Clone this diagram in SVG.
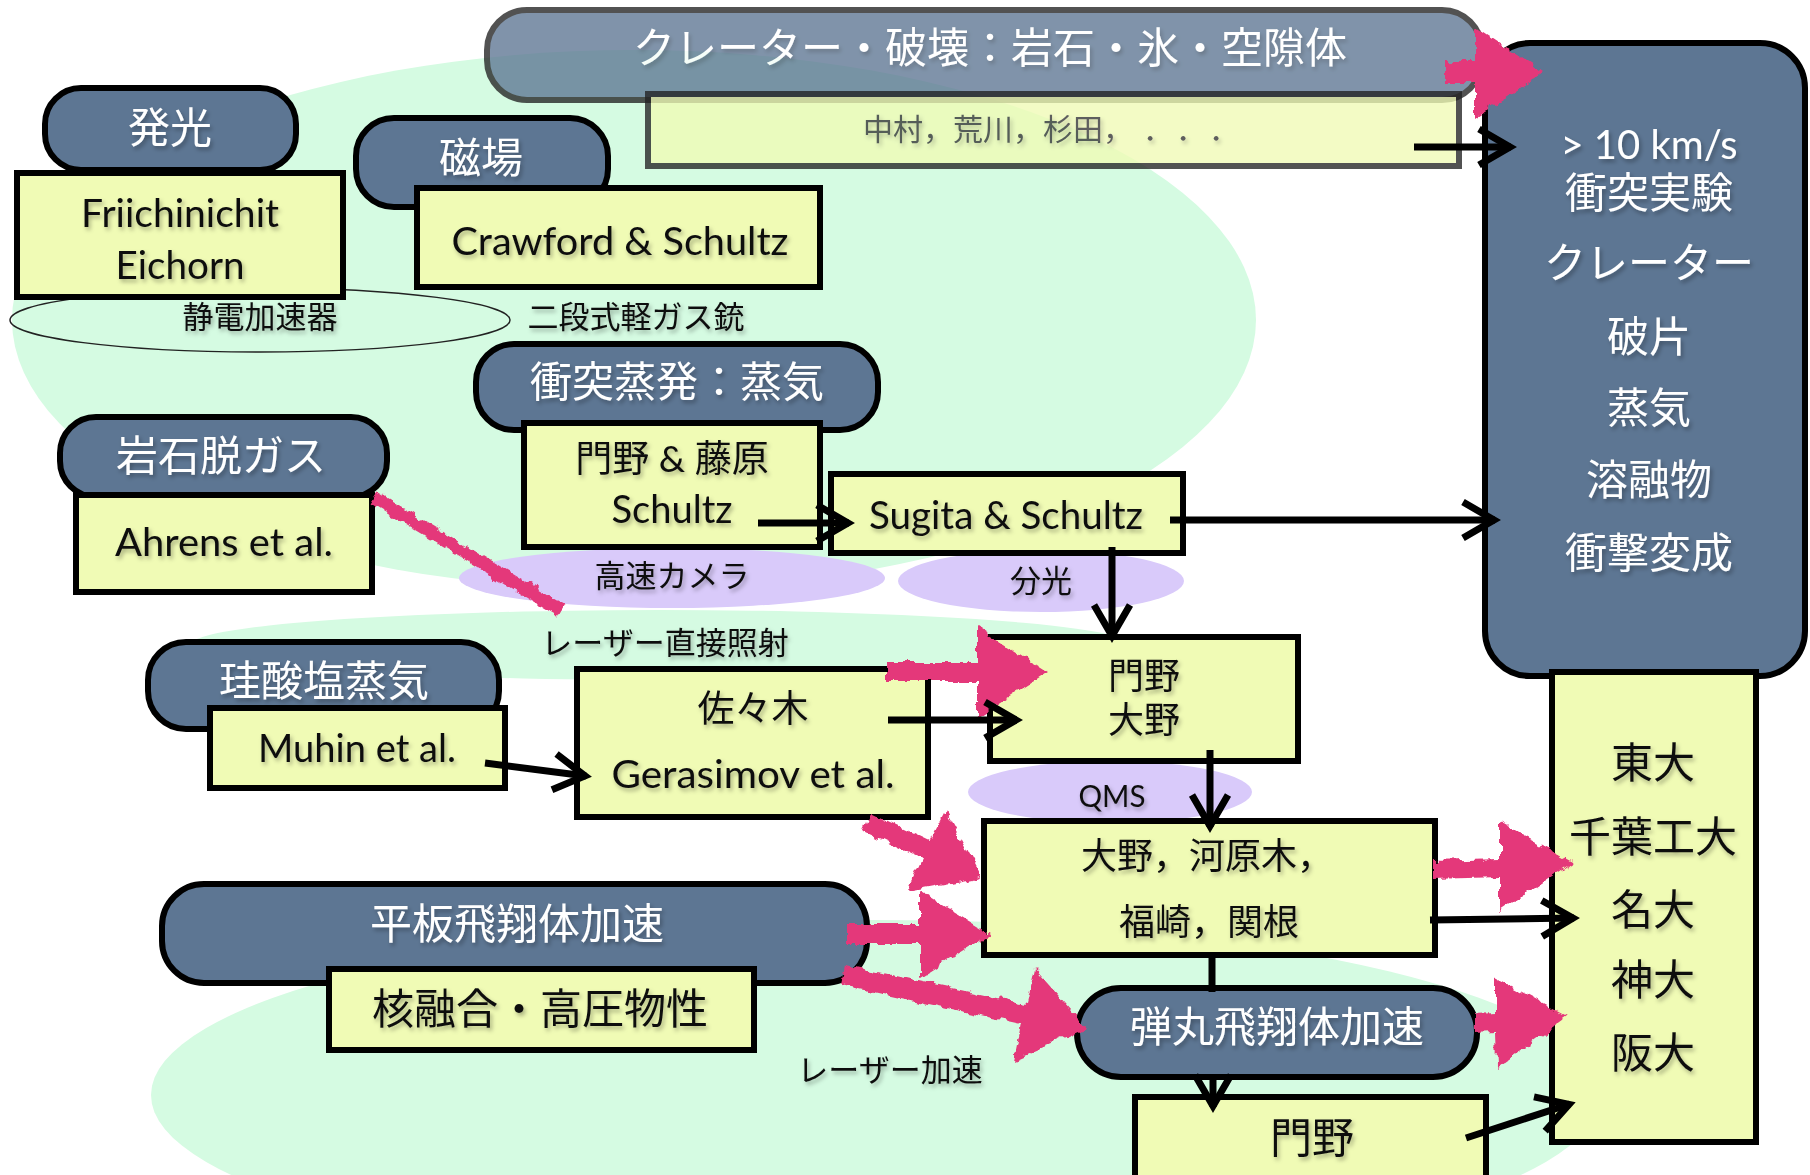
<svg xmlns="http://www.w3.org/2000/svg" width="1810" height="1175" viewBox="0 0 1810 1175">
<style>
.bg{fill:#d5fbe2}
.lav{fill:#d9cafa}
.pill{fill:#5d7693;stroke:#000;stroke-width:6}
.box{fill:#f0fbb5;stroke:#000;stroke-width:6}
.t{font-family:'Noto Sans CJK JP',sans-serif;text-anchor:middle;dominant-baseline:central;filter:url(#sh)}
.lat{font-family:Lato,'Noto Sans CJK JP',sans-serif}
.w{fill:#fff;font-size:42px}
.d{fill:#111;font-size:42px}
.s31{font-size:31px}
.s36{font-size:36px}
.s39{font-size:39px}
.con{fill:none;stroke:#000;stroke-width:7;marker-end:url(#chev)}
.pink{fill:#e4397a;filter:url(#rough)}
</style>
<defs>
<filter id="sh" x="-10%" y="-30%" width="120%" height="160%">
<feDropShadow dx="2" dy="3" stdDeviation="2" flood-color="#000" flood-opacity="0.3"/>
</filter>
<filter id="rough" x="-15%" y="-15%" width="130%" height="130%">
<feTurbulence type="fractalNoise" baseFrequency="0.09" numOctaves="3" seed="3" result="n"/>
<feDisplacementMap in="SourceGraphic" in2="n" scale="9" xChannelSelector="R" yChannelSelector="G"/>
</filter>
<marker id="chev" markerUnits="userSpaceOnUse" viewBox="-45 -28 60 56" markerWidth="60" markerHeight="56" refX="0" refY="0" orient="auto">
<path d="M -32 -18 L -1 0 L -32 18" fill="none" stroke="#000" stroke-width="7" stroke-linejoin="miter"/>
</marker>
</defs>

<g id="background">
<ellipse class="bg" cx="634" cy="320" rx="622" ry="270"/>
<ellipse class="bg" cx="660" cy="645" rx="470" ry="35"/>
<ellipse class="bg" cx="876" cy="1095" rx="725" ry="175"/>
<ellipse id="el-kosoku" class="lav" cx="672" cy="578" rx="213" ry="30"/>
<ellipse id="el-bunko" class="lav" cx="1041" cy="581" rx="143" ry="31"/>
<ellipse id="el-qms" class="lav" cx="1110" cy="792" rx="142" ry="31"/>
<ellipse id="el-seiden" cx="260" cy="320" rx="250" ry="32" fill="none" stroke="#222" stroke-width="1.5"/>
</g>

<g id="labels">
<text class="t d s31" x="260" y="314">静電加速器</text>
<text class="t d s31" x="636" y="314">二段式軽ガス銃</text>
<text class="t d s31" x="672" y="573">高速カメラ</text>
<text class="t d s31" x="1041" y="578">分光</text>
<text class="t d lat" x="1112" y="795" style="font-size:30px" textLength="67" lengthAdjust="spacingAndGlyphs">QMS</text>
<text class="t d s31" x="665" y="640">レーザー直接照射</text>
<text class="t d s31" x="890" y="1067">レーザー加速</text>
</g>

<g id="n-crater" opacity="0.78">
<rect x="487" y="10" width="995" height="90" rx="40" class="pill" style="stroke:#222"/>
<text class="t w" x="990" y="44">クレーター・破壊：岩石・氷・空隙体</text>
</g>
<g id="n-nakamura" opacity="0.78">
<rect x="648" y="94" width="811" height="72" class="box" style="stroke:#222"/>
<text class="t d" x="863" y="127" style="font-size:30px;fill:#333;text-anchor:start">中村，荒川，杉田，</text>
<text class="t d" x="1158" y="127" style="font-size:30px;fill:#333">．</text>
<text class="t d" x="1191" y="127" style="font-size:30px;fill:#333">．</text>
<text class="t d" x="1224" y="127" style="font-size:30px;fill:#333">．</text>
</g>

<g id="n-right">
<rect x="1485" y="43" width="320" height="633" rx="45" class="pill"/>
<text class="t w" x="1649" y="144"><tspan class="lat" x="1649" y="144" style="font-size:40px">&gt; 10 km/s</tspan><tspan x="1649" y="189">衝突実験</tspan></text>
<text class="t w" x="1649" y="259">クレーター</text>
<text class="t w" x="1649" y="333">破片</text>
<text class="t w" x="1649" y="404">蒸気</text>
<text class="t w" x="1649" y="476">溶融物</text>
<text class="t w" x="1649" y="549">衝撃変成</text>
</g>
<g id="n-univ">
<rect x="1552" y="672" width="204" height="470" class="box"/>
<text class="t d" x="1653" y="759">東大</text>
<text class="t d" x="1653" y="833">千葉工大</text>
<text class="t d" x="1653" y="906">名大</text>
<text class="t d" x="1653" y="976">神大</text>
<text class="t d" x="1653" y="1049">阪大</text>
</g>

<g id="n-hakko">
<rect x="45" y="88" width="251" height="82" rx="36" class="pill"/>
<text class="t w" x="170" y="124">発光</text>
</g>
<g id="n-friichinichit">
<rect x="17" y="173" width="326" height="124" class="box"/>
<text class="t d lat s39" x="180" y="212" textLength="198" lengthAdjust="spacingAndGlyphs">Friichinichit</text>
<text class="t d lat s39" x="180" y="264" textLength="129" lengthAdjust="spacingAndGlyphs">Eichorn</text>
</g>

<g id="n-jiba">
<rect x="356" y="118" width="252" height="89" rx="38" class="pill"/>
<text class="t w" x="481" y="154">磁場</text>
</g>
<g id="n-crawford">
<rect x="417" y="188" width="403" height="99" class="box"/>
<text class="t d lat s39" x="620" y="240" textLength="337" lengthAdjust="spacingAndGlyphs">Crawford &amp; Schultz</text>
</g>

<g id="n-shototsu">
<rect x="476" y="344" width="402" height="86" rx="38" class="pill"/>
<text class="t w" x="677" y="378">衝突蒸発：蒸気</text>
</g>
<g id="n-kadono-fujiwara">
<rect x="524" y="423" width="296" height="124" class="box"/>
<text class="t d lat" x="672" y="457" style="font-size:37px">門野 &amp; 藤原</text>
<text class="t d lat s39" x="672" y="508" textLength="121" lengthAdjust="spacingAndGlyphs">Schultz</text>
</g>

<g id="n-sugita">
<rect x="831" y="474" width="352" height="79" class="box"/>
<text class="t d lat s39" x="1006" y="514" textLength="274" lengthAdjust="spacingAndGlyphs">Sugita &amp; Schultz</text>
</g>

<g id="n-ganseki">
<rect x="60" y="417" width="327" height="80" rx="36" class="pill"/>
<text class="t w" x="221" y="452">岩石脱ガス</text>
</g>
<g id="n-ahrens">
<rect x="76" y="495" width="296" height="97" class="box"/>
<text class="t d lat s39" x="224" y="541" textLength="218" lengthAdjust="spacingAndGlyphs">Ahrens et al.</text>
</g>

<g id="n-keisan">
<rect x="148" y="642" width="351" height="87" rx="38" class="pill"/>
<text class="t w" x="324" y="677">珪酸塩蒸気</text>
</g>
<g id="n-muhin">
<rect x="210" y="708" width="295" height="80" class="box"/>
<text class="t d lat s39" x="357" y="747" textLength="198" lengthAdjust="spacingAndGlyphs">Muhin et al.</text>
</g>

<g id="n-sasaki">
<rect x="577" y="669" width="351" height="148" class="box"/>
<text class="t d" x="753" y="706" style="font-size:37px">佐々木</text>
<text class="t d lat s39" x="753" y="773" textLength="283" lengthAdjust="spacingAndGlyphs">Gerasimov et al.</text>
</g>

<g id="n-kadono-ohno">
<rect x="990" y="637" width="308" height="124" class="box"/>
<text class="t d s36" x="1144" y="673"><tspan x="1144" y="673">門野</tspan><tspan x="1144" y="717">大野</tspan></text>
</g>

<g id="n-ohno-kawara">
<rect x="984" y="821" width="451" height="134" class="box"/>
<text class="t d s36" x="1207" y="853">大野，河原木，</text>
<text class="t d s36" x="1209" y="919">福崎，関根</text>
</g>

<g id="n-heiban">
<rect x="162" y="884" width="705" height="99" rx="42" class="pill"/>
<text class="t w" x="517" y="920">平板飛翔体加速</text>
</g>
<g id="n-kakuyugo">
<rect x="329" y="969" width="425" height="81" class="box"/>
<text class="t d" x="540" y="1005">核融合・高圧物性</text>
</g>

<g id="n-dangan">
<rect x="1077" y="988" width="400" height="89" rx="44" class="pill"/>
<text class="t w" x="1277" y="1023">弾丸飛翔体加速</text>
</g>
<g id="n-kadono">
<rect x="1135" y="1097" width="351" height="95" class="box"/>
<text class="t d" x="1312" y="1134">門野</text>
</g>

<g id="connectors">
<polygon class="pink" points="1445,61 1475,61 1475,27 1543,72 1475,118 1475,82 1445,82"/>
<line x1="373" y1="497" x2="560" y2="610" stroke="#e4397a" stroke-width="13" filter="url(#rough)"/>
<polygon class="pink" points="887,662 977,662 977,627 1048,672 977,718 977,681 887,681"/>
<polygon class="pink" points="871,813 930,841 946,810 982,877 907,891 922,859 863,831"/>
<polygon class="pink" points="847,924 920,924 920,891 990,934 920,978 920,944 847,944"/>
<polygon class="pink" points="845,965 1026,1004 1034,968 1087,1028 1014,1060 1021,1024 841,985"/>
<polygon class="pink" points="1433,861 1500,859 1500,822 1573,862 1500,912 1500,877 1433,879"/>
<polygon class="pink" points="1474,1014 1495,1013 1495,978 1568,1017 1497,1068 1496,1031 1474,1032"/>

<path class="con" d="M1414,147 L1511,147"/>
<path class="con" d="M758,523 L849,523"/>
<path class="con" d="M1170,520 L1495,520"/>
<path class="con" d="M1112,547 L1112,637"/>
<path class="con" d="M485,763 L586,776"/>
<path class="con" d="M888,720 L1017,720"/>
<path class="con" d="M1210,750 L1210,827"/>
<path class="con" d="M1430,920 L1574,918"/>
<path d="M1212,955 L1212,992" fill="none" stroke="#000" stroke-width="7"/>
<path class="con" d="M1213,1077 L1213,1107"/>
<path class="con" d="M1466,1138 L1570,1104"/>
</g>
</svg>
